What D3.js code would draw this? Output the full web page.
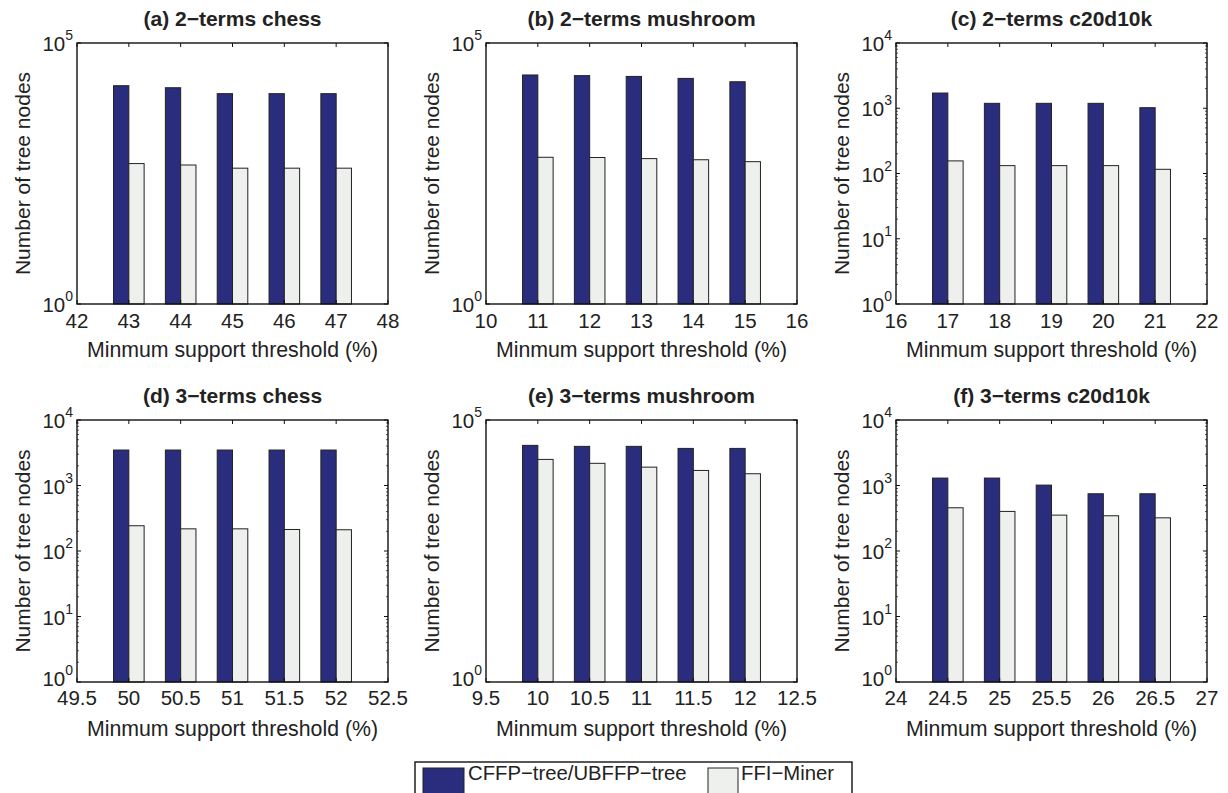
<!DOCTYPE html>
<html><head><meta charset="utf-8">
<script src="https://cdn.jsdelivr.net/npm/d3@7"></script>
<style>
body{margin:0;background:#fff}
svg{display:block;font-family:"Liberation Sans",Arial,Helvetica,sans-serif}
</style>
</head><body>
<svg id="chart" width="1228" height="793"></svg>
<script>
// ---- data ----
const titles = ["(a) 2\u2212terms chess","(b) 2\u2212terms mushroom","(c) 2\u2212terms c20d10k",
                "(d) 3\u2212terms chess","(e) 3\u2212terms mushroom","(f) 3\u2212terms c20d10k"];
const seriesNames = ["CFFP\u2212tree/UBFFP\u2212tree","FFI\u2212Miner"];

const xA = [43,44,45,46,47];
const cffpA = [15200,13900,10700,10700,10700];
const ffiA  = [490,460,400,400,400];

const xB = [11,12,13,14,15];
const cffpB = [24400,23700,22900,21000,18100];
const ffiB  = [647,640,610,580,533];

const xC = [17,18,19,20,21];
const cffpC = [1710,1190,1190,1190,1020];
const ffiC  = [156,132,132,132,116];

const xD = [50,50.5,51,51.5,52];
const cffpD = [3480,3480,3480,3480,3480];
const ffiD  = [243,218,218,213,211];

const xE = [10,10.5,11,11.5,12];
const cffpE = [32800,31400,31400,28700,28700];
const ffiE  = [17700,14900,12600,10900,9430];

const xF = [24.5,25,25.5,26,26.5];
const cffpF = [1298,1298,1014,748,748];
const ffiF  = [457,402,353,345,321];

const xTickLabelsA = ["42","43","44","45","46","47","48"];
const xTickLabelsB = ["10","11","12","13","14","15","16"];
const xTickLabelsC = ["16","17","18","19","20","21","22"];
const xTickLabelsD = ["49.5","50","50.5","51","51.5","52","52.5"];
const xTickLabelsE = ["9.5","10","10.5","11","11.5","12","12.5"];
const xTickLabelsF = ["24","24.5","25","25.5","26","26.5","27"];

const yTickExpsA = [0,5], yTickExpsB = [0,5], yTickExpsC = [0,1,2,3,4];
const yTickExpsD = [0,1,2,3,4], yTickExpsE = [0,5], yTickExpsF = [0,1,2,3,4];

const xLabel = "Minmum support threshold (%)";
const yLabel = "Number of tree nodes";

// ---- assemble ----
const panels = [
  {x:xA, s:[cffpA,ffiA], ticks:xTickLabelsA, ye:yTickExpsA, minor:false},
  {x:xB, s:[cffpB,ffiB], ticks:xTickLabelsB, ye:yTickExpsB, minor:false},
  {x:xC, s:[cffpC,ffiC], ticks:xTickLabelsC, ye:yTickExpsC, minor:true},
  {x:xD, s:[cffpD,ffiD], ticks:xTickLabelsD, ye:yTickExpsD, minor:true},
  {x:xE, s:[cffpE,ffiE], ticks:xTickLabelsE, ye:yTickExpsE, minor:false},
  {x:xF, s:[cffpF,ffiF], ticks:xTickLabelsF, ye:yTickExpsF, minor:true}
];

const colors = ["#2a2d7d","#eef0ee"];
const colLeft = [77,486,896], pw = 311;
const rowTop = [43,420], rowH = [261,262];
const tickLabelDy = [24,23];
const xLabelBase = [357,736];

const svg = d3.select("#chart");

panels.forEach((p,i)=>{
  const r = Math.floor(i/3), c = i%3;
  const L = colLeft[c], T = rowTop[r], H = rowH[r];
  const tickVals = p.ticks.map(Number);
  const x = d3.scaleLinear().domain([tickVals[0], tickVals[tickVals.length-1]]).range([L, L+pw]);
  const maxE = d3.max(p.ye);
  const y = d3.scaleLog().domain([1, Math.pow(10,maxE)]).range([T+H, T]);
  const g = svg.append("g");

  const step = x(p.x[1]) - x(p.x[0]);
  const bw = step*0.295;

  // bars
  p.s.forEach((vals,si)=>{
    g.selectAll(null).data(vals).enter().append("rect")
      .attr("x",(d,j)=> si===0 ? x(p.x[j])-bw : x(p.x[j]))
      .attr("y",d=>y(d))
      .attr("width",bw)
      .attr("height",d=>y(1)-y(d))
      .attr("fill",colors[si])
      .attr("stroke","#222").attr("stroke-width",1);
  });

  // y ticks (inward both sides)
  const yt = p.ye.map(e=>Math.pow(10,e));
  g.selectAll(null).data(yt).enter().append("path")
    .attr("d",d=>`M${L},${y(d)}h4M${L+pw},${y(d)}h-4`)
    .attr("stroke","#111").attr("stroke-width",1);
  if(p.minor){
    const mv=[];
    for(let e=0;e<maxE;e++) for(let m=2;m<=9;m++) mv.push(m*Math.pow(10,e));
    g.selectAll(null).data(mv).enter().append("path")
      .attr("d",d=>`M${L},${y(d)}h2M${L+pw},${y(d)}h-2`)
      .attr("stroke","#333").attr("stroke-width",0.8);
  }
  // x ticks top/bottom
  g.selectAll(null).data(tickVals).enter().append("path")
    .attr("d",d=>`M${x(d)},${T}v4M${x(d)},${T+H}v-4`)
    .attr("stroke","#111").attr("stroke-width",1);

  // box
  g.append("rect").attr("x",L).attr("y",T).attr("width",pw).attr("height",H)
    .attr("fill","none").attr("stroke","#111").attr("stroke-width",1.4);

  // x tick labels
  g.selectAll(null).data(p.ticks).enter().append("text")
    .attr("x",(d)=>x(+d)).attr("y",T+H+tickLabelDy[r])
    .attr("text-anchor","middle").attr("font-size",20.5).attr("fill","#222")
    .text(d=>d);

  // y tick labels with superscript
  const yl = g.selectAll(null).data(p.ye).enter().append("text")
    .attr("x",L-4).attr("y",e=>y(Math.pow(10,e))+ (e===0 && r===1 ? 4 : 8))
    .attr("text-anchor","end").attr("font-size",20.5).attr("fill","#222");
  yl.append("tspan").text("10");
  yl.append("tspan").attr("dy",-11).attr("font-size",14).text(e=>e);

  // title
  g.append("text").attr("x",L+pw/2).attr("y",T-17).attr("text-anchor","middle")
    .attr("font-size",21).attr("font-weight","bold").attr("fill","#222").text(titles[i]);

  // axis labels
  g.append("text").attr("x",L+pw/2).attr("y",xLabelBase[r]).attr("text-anchor","middle")
    .attr("font-size",21.3).attr("fill","#222").text(xLabel);
  g.append("text").attr("transform",`translate(${L-47},${T+H/2}) rotate(-90)`)
    .attr("text-anchor","middle").attr("font-size",21).attr("fill","#222").text(yLabel);
});

// legend
const lg = svg.append("g");
lg.append("rect").attr("x",415).attr("y",762).attr("width",437).attr("height",40)
  .attr("fill","#fff").attr("stroke","#111").attr("stroke-width",1.4);
const legX = [423,708], legW = [41,30], legTX = [468,741];
seriesNames.forEach((n,i)=>{
  lg.append("rect").attr("x",legX[i]).attr("y",768).attr("width",legW[i]).attr("height",30)
    .attr("fill",colors[i]).attr("stroke","#222").attr("stroke-width",1);
  lg.append("text").attr("x",legTX[i]).attr("y",780).attr("font-size",20.3).attr("fill","#222").text(n);
});
</script>
</body></html>
